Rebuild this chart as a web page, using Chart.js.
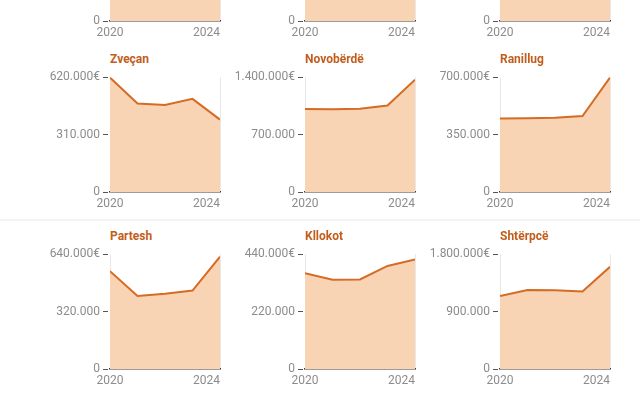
<!DOCTYPE html>
<html>
<head>
<meta charset="utf-8">
<script src="https://cdn.jsdelivr.net/npm/chart.js@4.4.1/dist/chart.umd.min.js"></script>
<style>
  html, body { margin: 0; padding: 0; background: #fff; width: 640px; height: 400px; overflow: hidden; position: relative; }
  .cell { position: absolute; }
  .title { position: absolute; font: bold 12px Roboto, sans-serif; line-height: 14px; color: #c25e1d; white-space: nowrap; }
  .sep { position: absolute; left: 0; width: 640px; top: 219px; height: 2px; background: #f3f3f3; }
</style>
</head>
<body>
<div class="sep"></div>
<script>
const years = [2020, 2021, 2022, 2023, 2024];
const names = ['Graçanicë', 'Leposaviq', 'Zubin Potok', 'Zveçan', 'Novobërdë', 'Ranillug', 'Partesh', 'Kllokot', 'Shtërpcë'];
const axisMax = [2000000, 1200000, 800000, 620000, 1400000, 700000, 640000, 440000, 1800000];

// top row is scrolled out of view, only the bottom strip shows
const gracanice = [1500000, 1450000, 1500000, 1600000, 1900000];
const leposaviq = [900000, 880000, 900000, 950000, 1150000];
const zubinPotok = [600000, 580000, 590000, 620000, 760000];
const zvecan = [618000, 478000, 470000, 503000, 391000];
const novoberde = [1012000, 1010000, 1015000, 1055000, 1370000];
const ranillug = [448000, 450000, 452000, 463000, 698000];
const partesh = [545000, 407000, 420000, 437000, 626000];
const kllokot = [367000, 342000, 343000, 395000, 420000];
const shterpce = [1145000, 1238000, 1235000, 1214000, 1602000];

const series = [gracanice, leposaviq, zubinPotok, zvecan, novoberde, ranillug, partesh, kllokot, shterpce];

const colLeft = [110, 305, 500];
const rowBottom = [19, 190, 367];

const tickFont = { family: 'Roboto', size: 12 };
const tickColor = '#8c8c8c';

const fmt = (v) => String(v).replace(/\B(?=(\d{3})+(?!\d))/g, '.');

// keep the last year label inside the plot
const edgeLabels = {
  id: 'edgeLabels',
  beforeDraw(chart) {
    const items = chart.scales.x.getLabelItems();
    if (items.length) {
      const last = items[items.length - 1];
      if (last.options) last.options.textAlign = 'right';
      last.textAlign = 'right';
    }
  }
};

function makeChart(i) {
  const max = axisMax[i];
  const plotLeft = colLeft[i % 3];
  const plotBottom = rowBottom[Math.floor(i / 3)];
  const W = 210, H = 145;

  const cell = document.createElement('div');
  cell.className = 'cell';
  cell.style.left = (plotLeft - 80) + 'px';
  cell.style.top = (plotBottom - (H - 22)) + 'px';
  const canvas = document.createElement('canvas');
  canvas.width = W;
  canvas.height = H;
  cell.appendChild(canvas);
  document.body.appendChild(cell);

  const title = document.createElement('div');
  title.className = 'title';
  title.textContent = names[i];
  title.style.left = plotLeft + 'px';
  title.style.top = (plotBottom - 113 - 25) + 'px';
  document.body.appendChild(title);

  new Chart(canvas, {
    type: 'line',
    data: {
      datasets: [{
        data: years.map((y, k) => ({ x: y, y: series[i][k] })),
        borderColor: '#d46c24',
        backgroundColor: '#f8d3b4',
        fill: 'origin',
        borderWidth: 2,
        pointRadius: 0,
        tension: 0
      }]
    },
    options: {
      responsive: false,
      animation: false,
      layout: { padding: { top: 10, right: 20, left: 0, bottom: 0 } },
      plugins: { legend: { display: false }, tooltip: { enabled: false } },
      scales: {
        x: {
          type: 'linear',
          min: 2020,
          max: 2024,
          afterFit: (s) => { s.height = 20; },
          ticks: { stepSize: 4, color: tickColor, font: tickFont, padding: 5, maxRotation: 0, callback: (v) => String(v) },
          grid: { color: '#e8e8e8', drawTicks: false },
          border: { color: '#3a3a3a', width: 1.5 }
        },
        y: {
          min: 0,
          max: max,
          afterFit: (s) => { s.width = 80; },
          ticks: { stepSize: max / 2, color: tickColor, font: tickFont, padding: 3, callback: (v) => fmt(v) + (v === max ? '€' : '') },
          grid: { drawOnChartArea: false, tickLength: 7, tickColor: '#555', tickBorderDash: [5, 10] },
          border: { display: false }
        }
      }
    },
    plugins: [edgeLabels]
  });
}

for (let i = 0; i < names.length; i++) makeChart(i);
</script>
</body>
</html>
